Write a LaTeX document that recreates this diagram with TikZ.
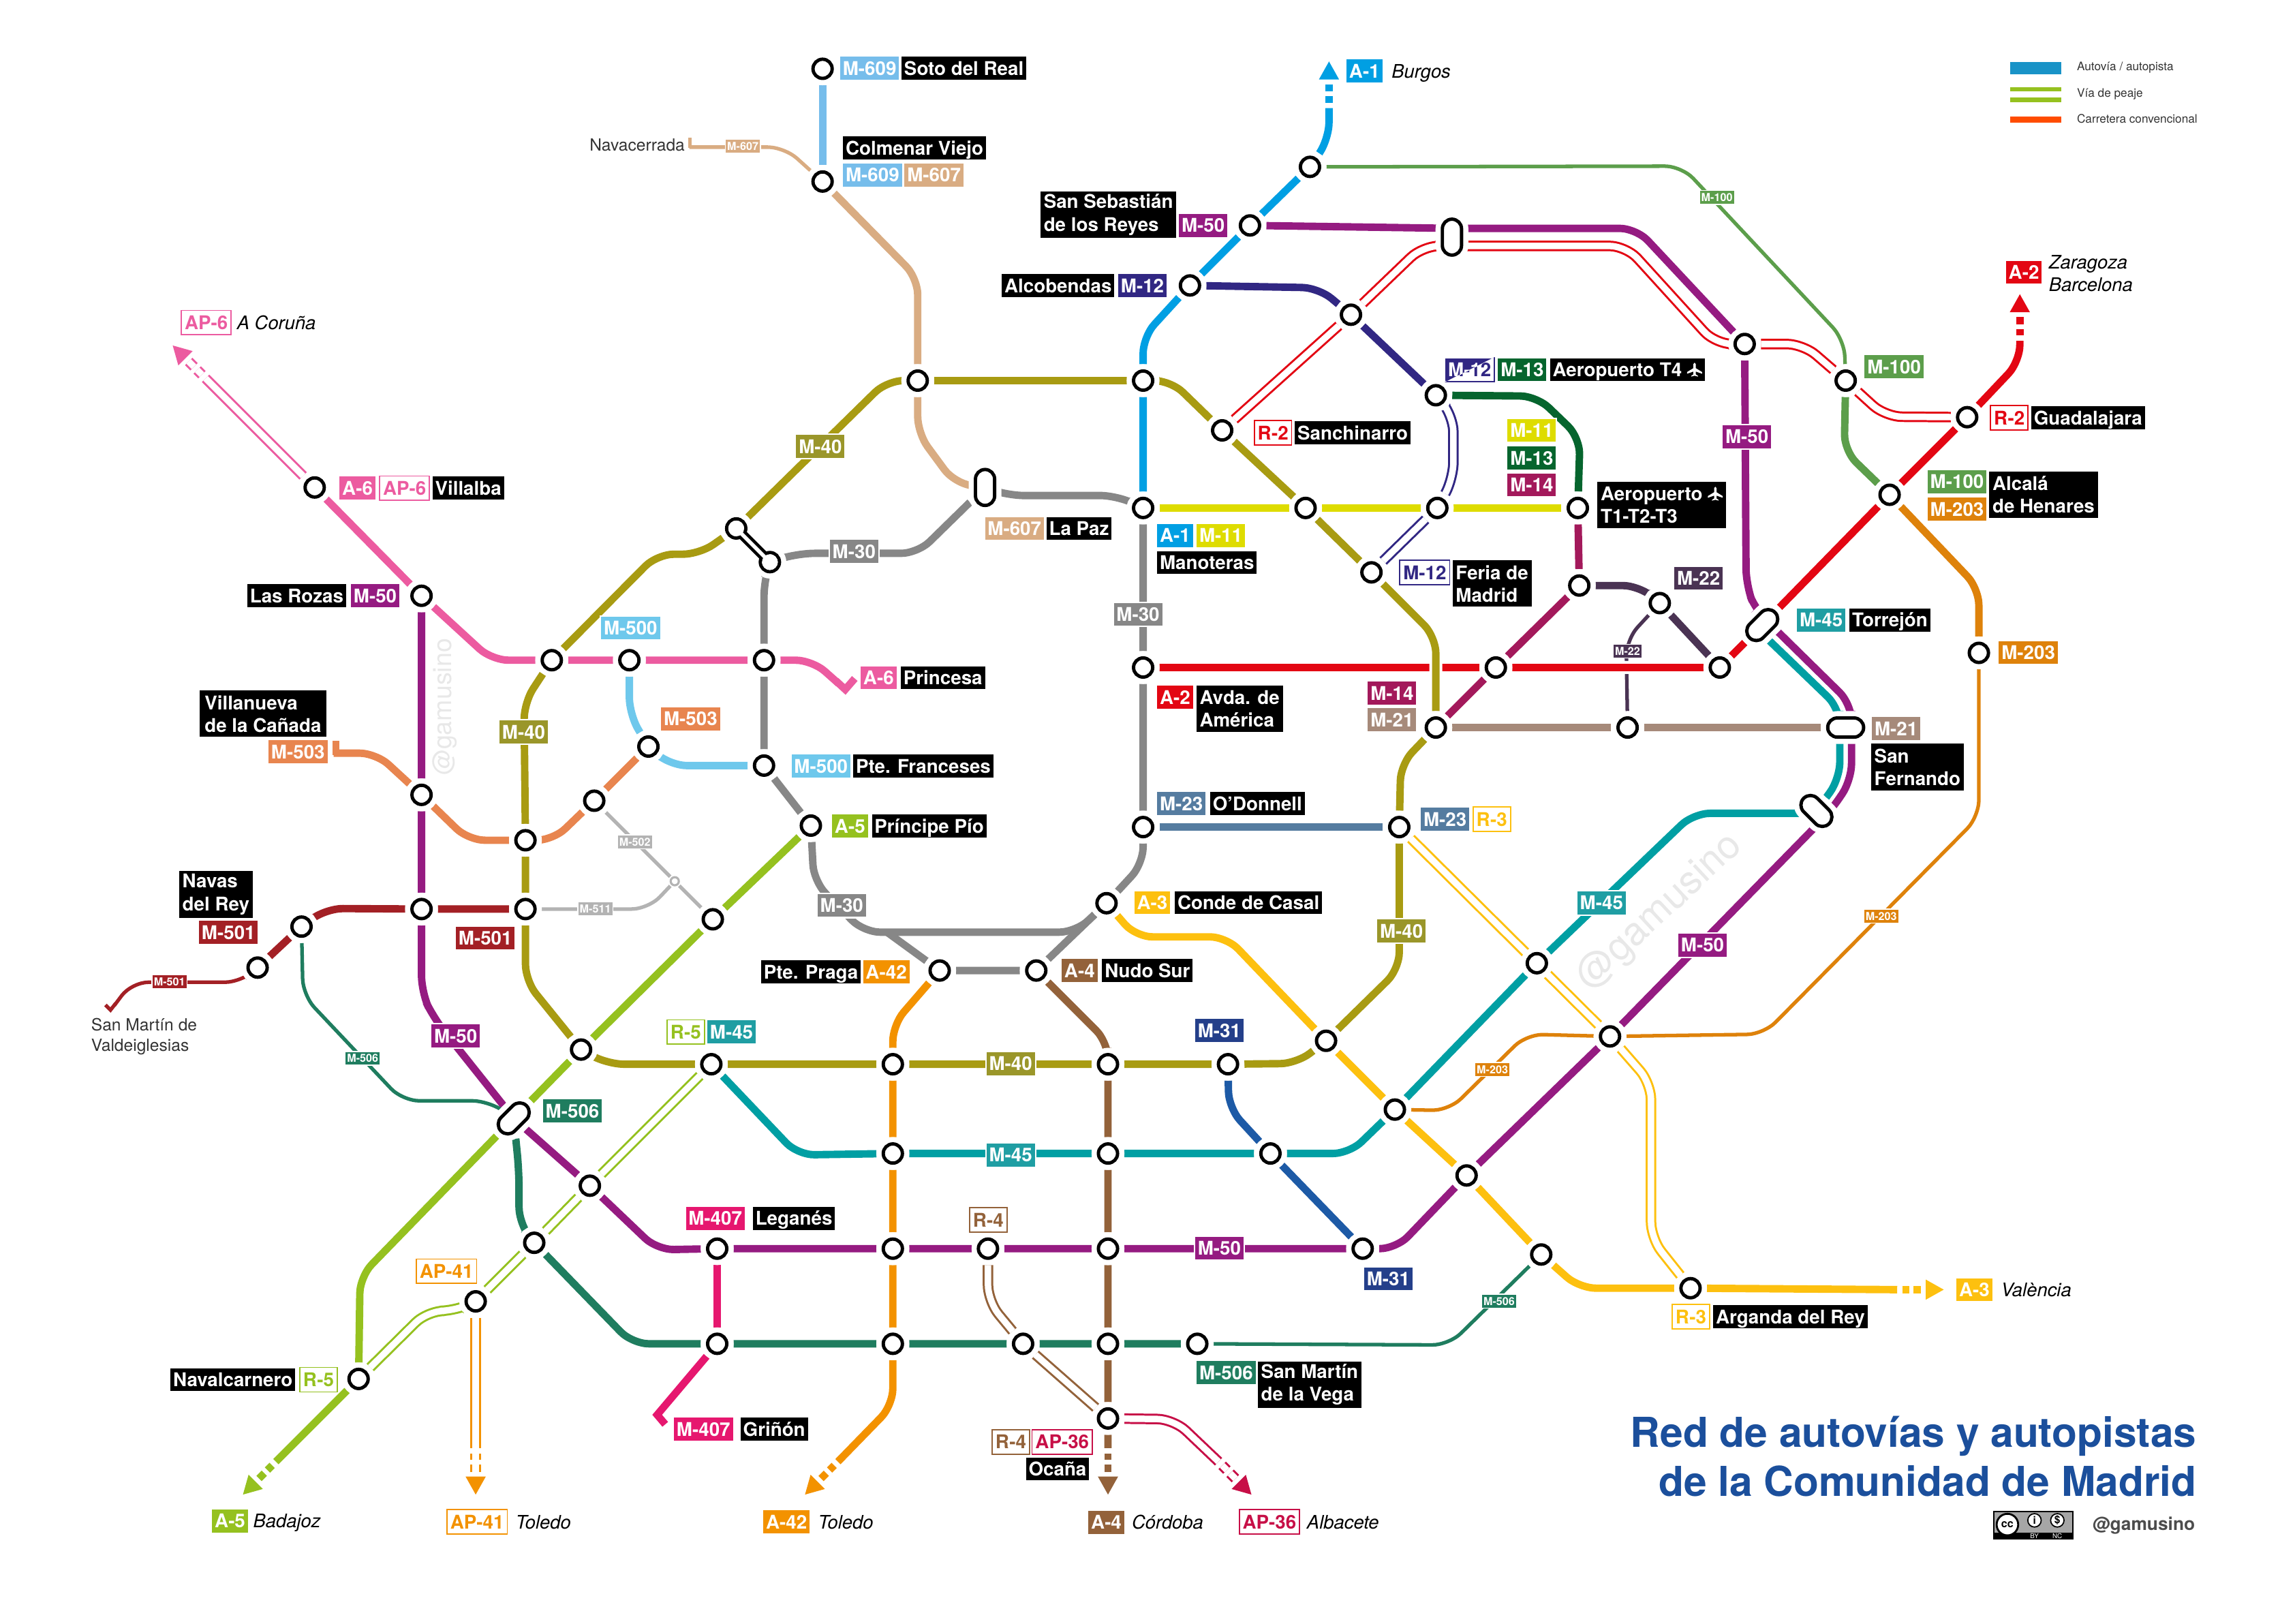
\documentclass[tikz,border=0pt]{standalone}
\usepackage{fontspec}
\setmainfont{TeX Gyre Heros}
\usetikzlibrary{calc}
\usetikzlibrary{shapes.misc}
\definecolor{cA1}{HTML}{009FE3}
\definecolor{cA2}{HTML}{E30613}
\definecolor{cA3}{HTML}{FDC00F}
\definecolor{cA4}{HTML}{93623A}
\definecolor{cA5}{HTML}{95C11F}
\definecolor{cA6}{HTML}{EC5BA0}
\definecolor{cA42}{HTML}{F39200}
\definecolor{cM11}{HTML}{DEDC00}
\definecolor{cM12}{HTML}{312783}
\definecolor{cM13}{HTML}{06652E}
\definecolor{cM14}{HTML}{A3195B}
\definecolor{cM21}{HTML}{A68A7A}
\definecolor{cM22}{HTML}{4A3353}
\definecolor{cM23}{HTML}{557CA0}
\definecolor{cM30}{HTML}{878787}
\definecolor{cM31}{HTML}{1D5AA6}
\definecolor{cM31b}{HTML}{243F8A}
\definecolor{cM40}{HTML}{A89B12}
\definecolor{cM40b}{HTML}{9A962A}
\definecolor{cM45}{HTML}{009FA3}
\definecolor{cM45b}{HTML}{1F9EA3}
\definecolor{cM50}{HTML}{951B81}
\definecolor{cM100}{HTML}{5C9E4B}
\definecolor{cM203}{HTML}{DE820B}
\definecolor{cM407}{HTML}{E6176F}
\definecolor{cM500}{HTML}{6EC8EC}
\definecolor{cM501}{HTML}{A32025}
\definecolor{cM503}{HTML}{E8854F}
\definecolor{cM506}{HTML}{1F7D5F}
\definecolor{cM511}{HTML}{B3B3B3}
\definecolor{cM607}{HTML}{D9AC82}
\definecolor{cM609}{HTML}{76BDEB}
\definecolor{cAP36}{HTML}{C70F47}
\definecolor{cTitle}{HTML}{1B4F9C}
\def\bdgfont{\fontsize{7.9}{9.4}\selectfont\bfseries}
\def\plcfont{\fontsize{7.8}{9.4}\selectfont\itshape}
\def\plane{\tikz[x=1pt,y=1pt,baseline=0pt]\fill[white](0,5.8)--(.5,5.2)--(.5,3.5)--(3.1,1.9)--(3.1,1.2)--(.5,2.1)--(.5,.9)--(1.4,.3)--(1.4,0)--(0,.35)--(-1.4,0)--(-1.4,.3)--(-.5,.9)--(-.5,2.1)--(-3.1,1.2)--(-3.1,1.9)--(-.5,3.5)--(-.5,5.2)--cycle;}
\def\roadend#1#2#3#4#5{%
  \begin{scope}[shift={(#4)},rotate=#5]
    \fill[#2](0,0)--(-12.3,-6.9)--(-12.3,6.9)--cycle;
    \draw[#3=#2](-15.5,0)--(-20.6,0);
    \draw[#3=#2](-23.7,0)--(-28.2,0);
    \coordinate(#1) at (-31.8,0);
  \end{scope}}
\pgfdeclarelayer{lines}
\pgfsetlayers{lines,main}
\tikzset{
  st/.style={circle,draw=black,fill=white,line width=1.4pt,minimum size=8pt,inner sep=0pt,outer sep=2.85pt,preaction={draw=white,line width=5.7pt}},
  pill/.style={st,rounded rectangle,minimum height=8pt,minimum width=15pt,rotate=#1},
  stsmall/.style={circle,draw=cM511,fill=white,line width=.9pt,minimum size=3.4pt,inner sep=0pt,outer sep=1pt},
  roadA/.style={draw=#1,line width=3.1pt,rounded corners=7pt},
  roadB/.style={draw=#1,line width=1.5pt,rounded corners=7pt},
  tailA/.style={draw=#1,line width=3.1pt},
  tailB/.style={draw=#1,line width=1.5pt},
  tollrd/.style={draw=#1,double=white,double distance=2.7pt,line width=.85pt,rounded corners=7pt},
  casing/.style={preaction={draw=white,line width=5.4pt}},
  tag/.style={anchor=west,rectangle,font=\bdgfont,inner xsep=1.4pt,inner ysep=0pt,minimum height=10.2pt,text height=5.8pt,text depth=0pt,draw=white,line width=.6pt},
  badge/.style={tag,fill=#1,text=white},
  tollb/.style={tag,fill=white,text=#1,draw=#1,line width=.5pt},
  blk/.style={tag,fill=black,text=white},
  blkm/.style={anchor=west,rectangle,font=\bdgfont,inner xsep=1.4pt,inner ysep=0pt,minimum height=19.4pt,align=left,fill=black,text=white},
  smallb/.style={rectangle,fill=#1,text=white,draw=white,line width=.4pt,font=\fontsize{4.6}{5}\selectfont\bfseries,inner xsep=.8pt,inner ysep=0pt,minimum height=5.8pt,text height=3.4pt,text depth=0pt},
  plc/.style={anchor=west,font=\plcfont,inner sep=0pt,text height=5.8pt,text depth=0pt},
  plcm/.style={anchor=west,font=\plcfont,inner sep=0pt,align=left},
  town/.style={anchor=west,font=\fontsize{7}{8.6}\selectfont,text=black!80,inner sep=0pt,align=left},
  leg/.style={anchor=west,font=\fontsize{4.9}{6}\selectfont,text=black!80,inner sep=0pt},
  wmark/.style={text=black!9,inner sep=0pt}
}
\begin{document}
\begin{tikzpicture}[x=0.02148cm,y=-0.02148cm]
  \useasboundingbox (0,0) rectangle (1568,1109);
  \node[wmark,font=\fontsize{10.7}{11}\selectfont,rotate=90] (markA) at (304,483){@gamusino};
  \node[wmark,font=\fontsize{16.4}{17}\selectfont,rotate=43] (markB) at (1134,623){@gamusino};
  \node[st](soto) at (562,47){};
  \node[st](colmenar) at (562,124){};
  \node[st](a1m100) at (895,114){};
  \node[st](ssreyes) at (854,154){};
  \node[st](alcob) at (813,195){};
  \node[st](m12r2) at (923,215){};
  \node[st](r2m50) at (1192,235){};
  \node[st](m100r2) at (1261,260){};
  \node[st](guada) at (1344,285){};
  \node[st](alcala) at (1291,338){};
  \node[st](m203st) at (1352,446){};
  \node[st](a2r) at (1175,456){};
  \node[st](m22a) at (1134,412){};
  \node[st](m14m22) at (1079,400){};
  \node[st](aerot) at (1078,347){};
  \node[st](t4) at (981,270){};
  \node[st](m11m12) at (982,347){};
  \node[st](m11m40) at (892,347){};
  \node[st](manot) at (781,347){};
  \node[st](a1m40) at (781,260){};
  \node[st](m607m40) at (627,260){};
  \node[st](sanch) at (835,294){};
  \node[st](feria) at (937,391){};
  \node[st](villalba) at (215,333){};
  \node[st](rozas) at (288,407){};
  \node[st](m50m503) at (288,543){};
  \node[st](a6m40) at (377,451){};
  \node[st](a6m500) at (430,451){};
  \node[st](a6m30) at (522,451){};
  \node[st](m503top) at (443,510){};
  \node[st](pfran) at (522,523){};
  \node[st](m503mid) at (406,547){};
  \node[st](m40m503) at (359,574){};
  \node[st](m40m501) at (359,621){};
  \node[st](m50m501) at (288,621){};
  \node[st](navas) at (206,633){};
  \node[st](m501st) at (176,661){};
  \node[st](a5m502) at (487,628){};
  \node[st](ppio) at (554,564){};
  \node[st](praga) at (642,663){};
  \node[st](nudo) at (708,663){};
  \node[st](conde) at (756,617){};
  \node[st](odon) at (781,565){};
  \node[st](avda) at (781,456){};
  \node[st](a2m14) at (1022,456){};
  \node[st](m14m21) at (981,497){};
  \node[st](m21m22) at (1112,497){};
  \node[st](m23r3) at (956,565){};
  \node[st](a3m40) at (906,711){};
  \node[st](a3m45) at (953,758){};
  \node[st](r3m45) at (1050,658){};
  \node[st](r3m50) at (1100,708){};
  \node[st](a3m50) at (1002,803){};
  \node[st](a3m506) at (1053,857){};
  \node[st](arganda) at (1155,880){};
  \node[st](a5m40) at (397,717){};
  \node[st](r5m45) at (486,727){};
  \node[st](a42m40) at (610,727){};
  \node[st](a4m40) at (757,727){};
  \node[st](m31m40) at (839,727){};
  \node[st](a42m45) at (610,788){};
  \node[st](a4m45) at (757,788){};
  \node[st](m31m45) at (868,788){};
  \node[st](m31m50) at (931,853){};
  \node[st](a4m50) at (757,853){};
  \node[st](r4m50) at (675,853){};
  \node[st](a42m50) at (610,853){};
  \node[st](legan) at (490,853){};
  \node[st](r5m50) at (403,810){};
  \node[st](r5m506) at (365,849){};
  \node[st](ap41st) at (325,889){};
  \node[st](navalc) at (245,942){};
  \node[st](griny) at (490,918){};
  \node[st](a42m506) at (610,918){};
  \node[st](r4m506) at (699,918){};
  \node[st](a4m506) at (757,918){};
  \node[st](smvega) at (818,918){};
  \node[st](ocana) at (757,969){};
  \node[stsmall](m502st) at (461,602){};
  \node[pill=90](pillm) at (992,162){};
  \node[pill=90](pillp) at (673,333){};
  \node[pill=45](pillt) at (1204,427){};
  \node[pill=0](pillf) at (1261,497){};
  \node[pill=-45](pillg) at (1241,554){};
  \node[pill=45](pillx) at (351,764){};
  \node[st](bonea) at (503,361){};
  \node[st](boneb) at (526,384){};
  \draw[black,line width=4.2pt](bonea.center)--(boneb.center);
  \fill[white](bonea.center) circle (3.3pt);
  \fill[white](boneb.center) circle (3.3pt);
  \draw[white,line width=1.6pt](bonea.center)--(boneb.center);
  \roadend{endA1}{cA1}{roadA}{908,42}{90}
  \roadend{endA2}{cA2}{roadA}{1380,201}{90}
  \roadend{endA3}{cA3}{roadA}{1328,881}{0}
  \roadend{endA4}{cA4}{roadA}{757,1021}{-90}
  \roadend{endA5}{cA5}{roadA}{166,1021}{-135}
  \roadend{endA42}{cA42}{roadA}{550,1021}{-135}
  \roadend{endAP6}{cA6}{tollrd}{118,236}{135}
  \roadend{endAP41}{cA42}{tollrd}{325,1021}{-90}
  \roadend{endAP36}{cAP36}{tollrd}{855,1021}{-45}
  \begin{pgfonlayer}{lines}
    \draw[roadA=cM609](soto)--(colmenar);
    \draw[roadB=cM607](471,100.5)--(536,100.5)--(colmenar);
    \draw[tailB=cM607](471.5,94)--(471.5,101.2);
    \draw[roadA=cM607](colmenar)--(627,190)--(m607m40)--(627,296)--(652,330)--(pillp);
    \draw[roadA=cA1](endA1)--(908,95)--(a1m100)--(ssreyes)--(alcob)--(781,230)--(a1m40)--(manot);
    \draw[roadB=cM100](a1m100)--(1149,113.5)--(1260,232)--(m100r2);
    \draw[roadA=cM100](m100r2)--(1260,308)--(alcala);
    \draw[roadA=cM203](alcala)--(1352,402)--(m203st);
    \draw[roadB=cM203](m203st)--(1352,558)--(1205,706.5)--(r3m50)--(1043,706.5)--(990,758.6)--(a3m45);
    \draw[roadA=cM30](pillp)--(688,338.5)--(763,338.5)--(manot)--(avda)--(odon)--(781,590)--(conde)--(nudo)--(praga);
    \draw[roadA=cM30](pillp)--(627,378)--(545,378)--(boneb)--(522,396)--(a6m30)--(pfran)--(ppio)--(556,602)--(590,636.8)--(735,636.8)--(conde);
    \draw[roadA=cM30](606,636.8)--(praga);
    \draw[roadA=cM11](manot)--(m11m40)--(m11m12)--(aerot);
    \draw[roadA=cM12](alcob)--(901,196.6)--(m12r2)--(t4);
    \draw[tollrd=cM12](t4)--(993,284)--(993,327)--(m11m12)--(feria);
    \draw[roadA=cM13](t4)--(1050,270.6)--(1079.5,299)--(aerot);
    \draw[roadA=cM14](aerot)--(m14m22)--(a2m14)--(m14m21);
    \draw[roadA=cM22](m14m22)--(1120,400)--(m22a)--(a2r);
    \draw[roadB=cM22](m22a)--(1111,437)--(m21m22);
    \draw[roadA=cM21](m14m21)--(m21m22)--(pillf);
    \draw[casing,roadA=cA2](avda)--(a2m14)--(a2r)--(pillt)--(alcala)--(guada)--(1380,247)--(endA2);
    \draw[tollrd=cA2](sanch)--(m12r2)--(972,168)--($(pillm)+(0,6)$)--(1111,168)--(1172,235)--(r2m50)--(1232,235)--(m100r2)--(1288,284.6)--(guada);
    \draw[roadA=cM50](ssreyes)--($(pillm)+(0,-6)$)--(1118,156)--(r2m50)--(1193,400)--(1200,418)--($(pillt)+(3,-3)$)--(1265,481)--($(pillf)+(4,0)$)--(1265,533)--(1250,555)--($(pillg)+(3,7)$)--(r3m50)--(a3m50)--(954,853)--(m31m50)--(a4m50)--(r4m50)--(a42m50)--(legan)--(449,853.8)--(r5m50)--(pillx)--(296,695)--(288,678)--(m50m501)--(m50m503)--(rozas);
    \draw[roadA=cM45](r5m45)--(545,789)--(a42m45)--(a4m45)--(m31m45)--(922,788)--(a3m45)--(r3m45)--(1157,555.6)--($(pillg)+(0,1.6)$);
    \draw[roadA=cM45]($(pillt)+(0,6)$)--(1257,484)--($(pillf)+(-4,0)$)--(1257,532)--(pillg);
    \draw[roadA=cM23](odon)--(m23r3);
    \draw[tollrd=cA3](m23r3)--(r3m50)--(1128,740)--(1128,846)--(arganda);
    \draw[roadA=cA3](conde)--(776,640)--(838,640)--(a3m40)--(a3m45)--(a3m50)--(a3m506)--(1079,880)--(arganda)--(endA3);
    \draw[roadA=cA4](nudo)--(757,712)--(a4m40)--(a4m45)--(a4m50)--(a4m506)--(ocana)--(endA4);
    \draw[roadA=cA42](praga)--(610,700)--(a42m40)--(a42m45)--(a42m50)--(a42m506)--(610,960)--(endA42);
    \draw[roadA=cA5](ppio)--(a5m502)--(a5m40)--(pillx)--(246,872)--(navalc)--(endA5);
    \draw[tollrd=cA5](r5m45)--(r5m50)--(r5m506)--(ap41st)--(312,895.5)--(292,895.5)--(navalc);
    \draw[tollrd=cA42](ap41st)--(endAP41);
    \draw[tollrd=cA4](r4m50)--(675,889)--(r4m506)--(ocana);
    \draw[tollrd=cAP36](ocana)--(802,969.5)--(endAP36);
    \draw[tollrd=cA6](villalba)--(endAP6);
    \draw[roadA=cA6](villalba)--(rozas)--(336,451)--(a6m40)--(a6m500)--(a6m30)--(555,451)--(573,467);
    \draw[tailA=cA6](571,465)--(577.5,471)--(584,463.5);
    \draw[casing,roadA=cM40](bonea)--(606,260)--(m607m40)--(a1m40)--(800,260)--(sanch)--(m11m40)--(feria)--(981,435)--(m14m21)--(957,522)--(m23r3)--(956,662)--(a3m40)--(886,726.5)--(m31m40)--(a4m40)--(a42m40)--(r5m45)--(415,727)--(a5m40)--(359,670)--(m40m501)--(m40m503)--(358,480)--(a6m40)--(449,378.6)--(478,378.6)--(bonea);
    \draw[roadA=cM31](m31m40)--(839.5,757)--(m31m45)--(m31m50);
    \draw[roadA=cM407](legan)--(griny);
    \draw[tailA=cM407](griny)--(449,966.5)--(454.5,973);
    \draw[roadA=cM506](pillx)--(354.6,800)--(354.6,836)--(r5m506)--(432,918)--(griny)--(a42m506)--(r4m506)--(a4m506)--(smvega);
    \draw[roadB=cM506](navas)--(207,680)--(275,752)--(334,752)--(pillx);
    \draw[roadB=cM506](smvega)--(990,918.8)--(a3m506);
    \draw[roadA=cM501](m501st)--(navas)--(223,620.6)--(m50m501)--(m40m501);
    \draw[roadB=cM501](m501st)--(165,671)--(90,671)--(78,687);
    \draw[tailB=cM501](79,685.5)--(75.5,690)--(72,686.5);
    \draw[roadB=cM511](m40m501)--(443,621)--(m502st);
    \draw[roadB=cM511](m503mid)--(m502st)--(a5m502);
    \draw[tailA=cM503](229.5,506)--(229.5,516);
    \draw[roadA=cM503](228,514.5)--(257,514.5)--(m50m503)--(320,574)--(m40m503)--(378,574)--(m503mid)--(m503top);
    \draw[roadA=cM500](a6m500)--(430,488)--(m503top)--(458,523)--(pfran);
  \end{pgfonlayer}
  \node[badge=cM609](tM609a) at (573,46.6){M-609};
  \node[blk](tSoto) at (615,46.6){Soto del Real};
  \node[blk](tColmenar) at (575,101){Colmenar Viejo};
  \node[badge=cM609](tM609b) at (575,119.5){M-609};
  \node[badge=cM607](tM607a) at (617,119.5){M-607};
  \node[town](tNavacerrada) at (402.5,99){Navacerrada};
  \node[smallb=cM607](tM607s) at (507.5,100){M-607};
  \node[badge=cA1](tA1a) at (919,48.4){A-1};
  \node[plc](tBurgos) at (950.5,48.4){Burgos};
  \node[blkm](tSanSeb) at (710.5,146.7){San Sebastián\\de los Reyes};
  \node[badge=cM50](tM50a) at (804.5,154){M-50};
  \node[blk](tAlcob) at (683.5,195){Alcobendas};
  \node[badge=cM12](tM12a) at (763,195){M-12};
  \node[tollb=cA2](tR2a) at (856.5,295.7){R-2};
  \node[blk](tSanch) at (883.7,295.7){Sanchinarro};
  \node[tollb=cM12](tM12b) at (986.6,252.5){M-12};
  \begin{scope}
    \clip (tM12b.north west)--(tM12b.north east)--(tM12b.south west)--cycle;
    \node[badge=cM12](tM12c) at (986.6,252.5){M-12};
  \end{scope}
  \node[badge=cM13](tM13a) at (1022.5,252.5){M-13};
  \node[blk](tT4) at (1058,252.5){Aeropuerto T4 \plane};
  \node[badge=cM11](tM11a) at (1029,294){M-11};
  \node[badge=cM13](tM13b) at (1029,313){M-13};
  \node[badge=cM14](tM14a) at (1029,331.3){M-14};
  \node[blkm](tT123) at (1091,345){Aeropuerto \plane\\T1-T2-T3};
  \node[badge=cM22](tM22a) at (1143,395){M-22};
  \node[smallb=cM22](tM22s) at (1112,444.8){M-22};
  \node[smallb=cM100](tM100s) at (1173,135){M-100};
  \node[badge=cM50](tM50b) at (1176,298.3){M-50};
  \node[badge=cM100](tM100a) at (1273,250.4){M-100};
  \node[badge=cA2](tA2a) at (1369.5,186){A-2};
  \node[plcm](tZarag) at (1399.5,187){Zaragoza\\Barcelona};
  \node[tollb=cA2](tR2b) at (1359.6,285.3){R-2};
  \node[blk](tGuada) at (1386.8,285.3){Guadalajara};
  \node[badge=cM100](tM100b) at (1316,329){M-100};
  \node[badge=cM203](tM203a) at (1316,347.9){M-203};
  \node[blkm](tAlcala) at (1358.7,338){Alcalá\\de Henares};
  \node[badge=cM203](tM203b) at (1364.7,445.8){M-203};
  \node[badge=cM45b](tM45a) at (1226.8,423.5){M-45};
  \node[blk](tTorre) at (1262.7,423.5){Torrejón};
  \node[badge=cM21](tM21a) at (1278,497.6){M-21};
  \node[blkm,minimum width=37.5pt](tFern) at (1278,524){San\\Fernando};
  \node[smallb=cM203](tM203s) at (1285.3,625.8){M-203};
  \node[badge=cM45b](tM45b) at (1076.7,616.7){M-45};
  \node[badge=cM50](tM50c) at (1145.7,645.6){M-50};
  \node[badge=cA1](tA1b) at (789.6,365.8){A-1};
  \node[badge=cM11](tM11b) at (816.6,365.8){M-11};
  \node[blk](tManot) at (789.6,384.3){Manoteras};
  \node[badge=cM607](tM607b) at (672,361){M-607};
  \node[blk](tPaz) at (714,361){La Paz};
  \node[tollb=cM12](tM12d) at (956,391){M-12};
  \node[blkm](tFeria) at (992,398.7){Feria de\\Madrid};
  \node[badge=cM30](tM30a) at (566,376.7){M-30};
  \node[badge=cM30](tM30b) at (760,419.7){M-30};
  \node[badge=cA2](tA2b) at (789.6,476.3){A-2};
  \node[blkm](tAvda) at (817,484){Avda. de\\América};
  \node[badge=cM14](tM14b) at (933.6,473.4){M-14};
  \node[badge=cM21](tM21b) at (933.6,491.7){M-21};
  \node[badge=cM23](tM23a) at (789.6,549){M-23};
  \node[blk](tOdon) at (825.8,549){O'Donnell};
  \node[badge=cM23](tM23b) at (969.8,559.7){M-23};
  \node[tollb=cA3](tR3a) at (1006,559.7){R-3};
  \node[badge=cA3](tA3a) at (774,616.6){A-3};
  \node[blk](tConde) at (801.7,616.6){Conde de Casal};
  \node[badge=cA4](tA4a) at (724.4,663){A-4};
  \node[blk](tNudo) at (752,663){Nudo Sur};
  \node[blk](tPraga) at (519,663.9){Pte. Praga};
  \node[badge=cA42](tA42a) at (588.7,663.9){A-42};
  \node[badge=cM40b](tM40a) at (940,635.9){M-40};
  \node[badge=cM31b](tM31a) at (815.6,704){M-31};
  \node[badge=cM40b](tM40b) at (673,726.6){M-40};
  \node[badge=cM45b](tM45c) at (673,789){M-45};
  \node[badge=cM50](tM50d) at (815.6,852.7){M-50};
  \node[tollb=cA4](tR4a) at (662,833.4){R-4};
  \node[badge=cM31b](tM31b) at (931,873.6){M-31};
  \node[badge=cM506](tM506a) at (816.6,937.7){M-506};
  \node[blkm](tVega) at (859,946){San Martín\\de la Vega};
  \node[tollb=cA4](tR4b) at (677.4,985){R-4};
  \node[tollb=cAP36](tAP36a) at (704.7,985){AP-36};
  \node[blk](tOcana) at (700,1003.5){Ocaña};
  \node[badge=cA4](tA4b) at (742.6,1039.9){A-4};
  \node[plc](tCord) at (773,1039.9){Córdoba};
  \node[tollb=cAP36](tAP36b) at (846.3,1039.5){AP-36};
  \node[plc](tAlbac) at (892.6,1039.5){Albacete};
  \node[badge=cA3](tA3b) at (1335.7,881){A-3};
  \node[plc](tValen) at (1366.8,881){València};
  \node[tollb=cA3](tR3b) at (1142,899.5){R-3};
  \node[blk](tArg) at (1169.5,899.5){Arganda del Rey};
  \node[smallb=cM203](tM203c) at (1019.6,730.6){M-203};
  \node[smallb=cM506](tM506s) at (1024.2,888.8){M-506};
  \node[smallb=cM506](tM506t) at (247.8,723){M-506};
  \node[smallb=cM501](tM501s) at (115.8,670.5){M-501};
  \node[smallb=cM511](tM511s) at (406.7,621){M-511};
  \node[smallb=cM511](tM502s) at (433.8,575){M-502};
  \node[badge=cA6](tA6a) at (231,333.5){A-6};
  \node[tollb=cA6](tAP6a) at (259,333.5){AP-6};
  \node[blk](tVillalba) at (294.5,333.5){Villalba};
  \node[tollb=cA6](tAP6b) at (123.5,220.4){AP-6};
  \node[plc](tCoruna) at (161.6,220.4){A Coruña};
  \node[blk](tRozas) at (168,407){Las Rozas};
  \node[badge=cM50](tM50e) at (238.8,407){M-50};
  \node[badge=cM500](tM500a) at (409.7,429){M-500};
  \node[badge=cM40b](tM40c) at (340.3,500){M-40};
  \node[badge=cM503](tM503a) at (450.7,491){M-503};
  \node[blkm,minimum width=53pt](tVilla) at (136,487.6){Villanueva\\de la Cañada};
  \node[badge=cM503](tM503b) at (182.5,513.5){M-503};
  \node[blkm](tNavas) at (122,611){Navas\\del Rey};
  \node[badge=cM501](tM501a) at (135,637){M-501};
  \node[badge=cM501](tM501b) at (310.5,640.8){M-501};
  \node[town](tSMV) at (62,708){San Martín de\\Valdeiglesias};
  \node[badge=cM50](tM50f) at (293.8,707.6){M-50};
  \node[badge=cM506](tM506b) at (370,759){M-506};
  \node[tollb=cA5](tR5a) at (455.3,705){R-5};
  \node[badge=cM45b](tM45d) at (482.3,705){M-45};
  \node[badge=cA6](tA6b) at (587,463){A-6};
  \node[blk](tPrinc) at (614.5,463){Princesa};
  \node[badge=cM500](tM500b) at (539.8,523.3){M-500};
  \node[blk](tFran) at (582,523.3){Pte. Franceses};
  \node[badge=cA5](tA5a) at (567.5,564.3){A-5};
  \node[blk](tPio) at (594.7,564.3){Príncipe Pío};
  \node[badge=cM30](tM30c) at (557.6,618.5){M-30};
  \node[badge=cM40b](tM40d) at (543,305){M-40};
  \node[badge=cM407](tM407a) at (467.6,832.3){M-407};
  \node[blk](tLegan) at (513.4,832.3){Leganés};
  \node[badge=cM407](tM407b) at (459.5,976.2){M-407};
  \node[blk](tGrin) at (505,976.2){Griñón};
  \node[tollb=cA42](tAP41a) at (284,868.4){AP-41};
  \node[blk](tNavalc) at (115.5,942.5){Navalcarnero};
  \node[tollb=cA5](tR5b) at (204.4,942.5){R-5};
  \node[badge=cA5](tA5b) at (143.9,1039){A-5};
  \node[plc](tBadaj) at (172.7,1039){Badajoz};
  \node[tollb=cA42](tAP41b) at (305,1039.7){AP-41};
  \node[plc](tTol1) at (352,1039.7){Toledo};
  \node[badge=cA42](tA42b) at (520.5,1039.7){A-42};
  \node[plc](tTol2) at (558.6,1039.7){Toledo};
  \node[anchor=east,font=\fontsize{17.2}{20.4}\selectfont\bfseries,text=cTitle,align=right,inner sep=0pt](tTitle) at (1501,995){Red de autovías y autopistas\\de la Comunidad de Madrid};
  \node[anchor=east,font=\fontsize{7.5}{8}\selectfont\bfseries,text=black!70,inner sep=0pt](tHandle) at (1500,1042){@gamusino};
  \fill[cA1!85!black!90](1373.5,42.5) rectangle (1408.4,50.7);
  \fill[cA5](1373.5,59.4) rectangle (1408.4,62.4);
  \fill[cA5](1373.5,66.6) rectangle (1408.4,69.6);
  \fill[orange!60!red](1373.5,79.6) rectangle (1408.4,83.8);
  \node[leg](tLeg1) at (1418.7,46.3){Autovía / autopista};
  \node[leg](tLeg2) at (1418.7,64.3){Vía de peaje};
  \node[leg](tLeg3) at (1418.7,81.2){Carretera convencional};
  \node[rectangle,draw=black,fill=black!35,line width=.6pt,minimum width=33pt,minimum height=11.5pt,inner sep=0pt](ccbox) at (1389.4,1041.8){};
  \fill[black](1362,1046.8) rectangle (1416.7,1051.5);
  \node[circle,draw=black,fill=white,line width=.8pt,minimum size=9pt,inner sep=0pt,font=\fontsize{4.6}{4}\selectfont\bfseries](ccA) at (1371.5,1041.5){cc};
  \node[circle,draw=black,fill=white,line width=.5pt,minimum size=5.6pt,inner sep=0pt,font=\fontsize{4.4}{4}\selectfont\bfseries](ccB) at (1390,1038.6){i};
  \node[circle,draw=black,fill=white,line width=.5pt,minimum size=5.6pt,inner sep=0pt,font=\fontsize{4.4}{4}\selectfont\bfseries](ccC) at (1405.6,1038.6){\$};
  \node[text=white,inner sep=0pt,font=\fontsize{2.8}{3}\selectfont](ccD) at (1390,1049.2){BY};
  \node[text=white,inner sep=0pt,font=\fontsize{2.8}{3}\selectfont](ccE) at (1405.6,1049.2){NC};
\end{tikzpicture}
\end{document}
